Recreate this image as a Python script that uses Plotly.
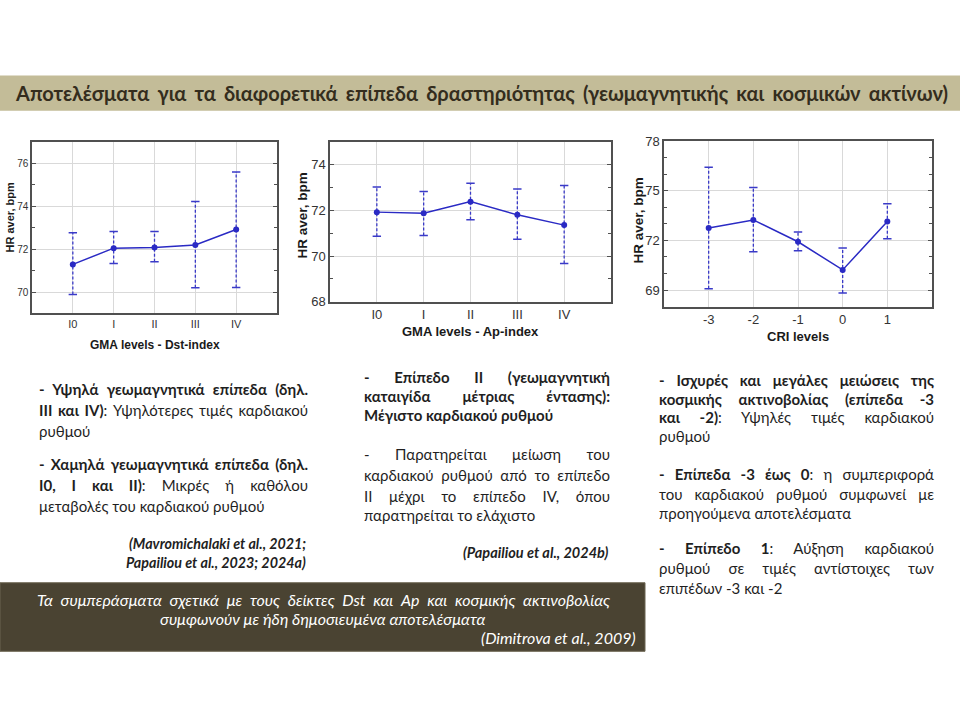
import json
import plotly.graph_objects as go

# ---------------- data ----------------
dst_levels = ["I0", "I", "II", "III", "IV"]
dst_mean = [71.29, 72.05, 72.08, 72.20, 72.92]
dst_upper = [72.77, 72.83, 72.83, 74.23, 75.60]
dst_lower = [69.89, 71.33, 71.42, 70.20, 70.21]

ap_levels = ["I0", "I", "II", "III", "IV"]
ap_mean = [71.93, 71.88, 72.39, 71.81, 71.36]
ap_upper = [73.03, 72.83, 73.20, 72.94, 73.10]
ap_lower = [70.87, 70.91, 71.60, 70.74, 69.68]

cri_levels = ["-3", "-2", "-1", "0", "1"]
cri_mean = [72.75, 73.24, 71.92, 70.22, 73.14]
cri_upper = [76.43, 75.20, 72.51, 71.55, 74.22]
cri_lower = [69.08, 71.31, 71.37, 68.82, 72.10]

title_text = "Αποτελέσματα για τα διαφορετικά επίπεδα δραστηριότητας (γεωμαγνητικής και κοσμικών ακτίνων)"
x_titles = ["GMA levels - Dst-index", "GMA levels - Ap-index", "CRI levels"]
y_title = "HR aver, bpm"

W, H = 960, 720
def px(x):
    return x / W
def py(y):
    return 1 - y / H

LINE = "#2a2ac4"
ERR = "#3a3ac8"
TICKFONT = "Liberation Sans, Arial, sans-serif"
BODY = "Lato, Carlito, Roboto, sans-serif"
TXT = "#1f1f1f"

fig = go.Figure()

charts = [
    (dst_levels, dst_mean, dst_upper, dst_lower),
    (ap_levels, ap_mean, ap_upper, ap_lower),
    (cri_levels, cri_mean, cri_upper, cri_lower),
]
for k, (cats, mean, up, lo) in enumerate(charts):
    sfx = "" if k == 0 else str(k + 1)
    xa, ya = "x" + sfx, "y" + sfx
    xs, ys = [], []
    for c, u, l in zip(cats, up, lo):
        xs += [c, c, None]
        ys += [l, u, None]
    fig.add_trace(go.Scatter(x=xs, y=ys, mode="lines", xaxis=xa, yaxis=ya,
                             line=dict(color=ERR, width=1.3, dash="3px,2px"),
                             hoverinfo="skip", showlegend=False))
    fig.add_trace(go.Scatter(x=cats + cats, y=up + lo, mode="markers", xaxis=xa, yaxis=ya,
                             marker=dict(symbol="line-ew", size=6, line=dict(color=ERR, width=1.5)),
                             hoverinfo="skip", showlegend=False))
    fig.add_trace(go.Scatter(x=cats, y=mean, mode="lines+markers", xaxis=xa, yaxis=ya,
                             line=dict(color=LINE, width=1.5),
                             marker=dict(color=LINE, size=6, symbol="circle"),
                             showlegend=False))

boxes = [
    (32, 277, 138, 313, [69, 77], 70, 2, 10),
    (330, 611, 138, 301, [68, 75], 68, 2, 13),
    (664, 932, 137, 306, [68, 78], 69, 3, 13),
]
layout = {}
for k, (x0, x1, y0, y1, rng, t0, dt, fs) in enumerate(boxes):
    sfx = "" if k == 0 else str(k + 1)
    layout["xaxis" + sfx] = dict(
        domain=[px(x0), px(x1)], anchor="y" + sfx, type="category", range=[-1, 5],
        showgrid=True, gridcolor="#d9d9d9", gridwidth=1, showline=True, mirror=True,
        linecolor="#505050", linewidth=1.5, ticks="", zeroline=False,
        tickfont=dict(family=TICKFONT, size=fs if k else 11, color="#333333"), fixedrange=True)
    layout["yaxis" + sfx] = dict(
        domain=[py(y1), py(y0)], anchor="x" + sfx, range=rng, tick0=t0, dtick=dt,
        showgrid=True, gridcolor="#d9d9d9", gridwidth=1, showline=True, mirror="ticks",
        linecolor="#505050", linewidth=1.5, ticks="inside", ticklen=4, tickcolor="#505050",
        minor=dict(dtick=1, ticks="inside", ticklen=3, tickcolor="#505050", showgrid=False),
        zeroline=False, tickfont=dict(family=TICKFONT, size=fs, color="#333333"),
        fixedrange=True)

ann = []
justify = {}

def add(text, x, y, size, color=TXT, xanchor="left", family=BODY, target=None, **kw):
    a = dict(text=text, x=px(x), y=py(y), xref="paper", yref="paper", showarrow=False,
             xanchor=xanchor, yanchor="middle", align="left" if xanchor == "left" else xanchor,
             borderpad=0, font=dict(family=family, size=size, color=color))
    a.update(kw)
    if target is not None:
        justify[str(len(ann))] = target - x
    ann.append(a)

ytitle_pos = [(10, 215, 11), (303, 213, 13.5), (638, 218, 13.5)]
for (x, y, s) in ytitle_pos:
    add("<b>" + y_title + "</b>", x, y, s, color="#1a1a1a", xanchor="center",
        family=TICKFONT, textangle=-90)
xtitle_pos = [(155, 345, 12), (470, 331, 13), (798, 336, 13)]
for t, (x, y, s) in zip(x_titles, xtitle_pos):
    add("<b>" + t + "</b>", x, y, s, color="#1a1a1a", xanchor="center", family=TICKFONT)

add("<b>" + title_text + "</b>", 14, 88, 20, color="#342d1d", family=BODY, target=946)

FS = 15
L0, L1 = 38, 307
add("<b>- Υψηλά γεωμαγνητικά επίπεδα (δηλ.</b>", L0, 390, FS, target=L1)
add("<b>III και IV)</b>: Υψηλότερες τιμές καρδιακού", L0, 411.5, FS, target=L1)
add("ρυθμού", L0, 433, FS)
add("<b>- Χαμηλά γεωμαγνητικά επίπεδα (δηλ.</b>", L0, 467, FS, target=L1)
add("<b>I0, I και II)</b>: Μικρές ή καθόλου", L0, 488.5, FS, target=L1)
add("μεταβολές του καρδιακού ρυθμού", L0, 510, FS)
add("<b><i>(Mavromichalaki et al., 2021;</i></b>", L1, 548, 14.3, xanchor="right")
add("<b><i>Papailiou et al., 2023; 2024a)</i></b>", L1, 567, 14.3, xanchor="right")

M0, M1 = 363, 609
add("<b>- Επίπεδο II (γεωμαγνητική</b>", M0, 378, FS, target=M1)
add("<b>καταιγίδα μέτριας έντασης):</b>", M0, 397.5, FS, target=M1)
add("<b>Μέγιστο καρδιακού ρυθμού</b>", M0, 417, FS)
add("- Παρατηρείται μείωση του", M0, 457, FS, target=M1)
add("καρδιακού ρυθμού από το επίπεδο", M0, 478, FS, target=M1)
add("II μέχρι το επίπεδο IV, όπου", M0, 499, FS, target=M1)
add("παρατηρείται το ελάχιστο", M0, 519, FS)
add("<b><i>(Papailiou et al., 2024b)</i></b>", M1, 557, 14.5, xanchor="right")

R0, R1 = 658, 933
add("<b>- Ισχυρές και μεγάλες μειώσεις της</b>", R0, 381, FS, target=R1)
add("<b>κοσμικής ακτινοβολίας (επίπεδα -3</b>", R0, 400, FS, target=R1)
add("<b>και -2)</b>: Υψηλές τιμές καρδιακού", R0, 419, FS, target=R1)
add("ρυθμού", R0, 438, FS)
add("<b>- Επίπεδα -3 έως 0</b>: η συμπεριφορά", R0, 477, FS, target=R1)
add("του καρδιακού ρυθμού συμφωνεί με", R0, 497, FS, target=R1)
add("προηγούμενα αποτελέσματα", R0, 517, FS)
add("<b>- Επίπεδο 1</b>: Αύξηση καρδιακού", R0, 553, FS, target=R1)
add("ρυθμού σε τιμές αντίστοιχες των", R0, 573, FS, target=R1)
add("επιπέδων -3 και -2", R0, 593, FS)

add("<i>Τα συμπεράσματα σχετικά με τους δείκτες Dst και Ap και κοσμικής ακτινοβολίας</i>",
    36, 605, 16, color="#ffffff", target=609)
add("<i>συμφωνούν με ήδη δημοσιευμένα αποτελέσματα</i>", 322, 624.5, 16, color="#ffffff",
    xanchor="center")
add("<i>(Dimitrova et al., 2009)</i>", 637, 644, 16, color="#ffffff", xanchor="right")

shapes = [
    dict(type="rect", xref="paper", yref="paper", x0=px(0), x1=px(960), y0=py(106), y1=py(70),
         fillcolor="#c3bc98", line=dict(width=0), layer="below"),
    dict(type="rect", xref="paper", yref="paper", x0=px(0), x1=px(645), y0=py(658), y1=py(588),
         fillcolor="#4a4332", line=dict(color="#6b6450", width=1), layer="below"),
]

fig.update_layout(
    width=W, height=H, margin=dict(l=0, r=0, t=0, b=0),
    paper_bgcolor="white", plot_bgcolor="white", showlegend=False,
    annotations=ann, shapes=shapes, **layout)

post = """
document.body.style.margin = '0';
document.body.style.overflow = 'hidden';
var gd = document.getElementById('{plot_id}');
var J = %s;
function just(){
  var anns = gd.querySelectorAll('g.annotation');
  anns.forEach(function(g){
    var i = g.getAttribute('data-index');
    if (J[i] === undefined) return;
    var t = g.querySelector('text.annotation-text');
    if (!t) return;
    t.style.wordSpacing = '0px';
    var w = t.getComputedTextLength();
    var n = (t.textContent.match(/ /g) || []).length;
    if (n > 0 && J[i] > w) t.style.wordSpacing = ((J[i] - w) / n) + 'px';
  });
}
just();
gd.on('plotly_afterplot', just);
""" % json.dumps(justify)

fig.write_html("out.html", post_script=post, config={"displayModeBar": False})
